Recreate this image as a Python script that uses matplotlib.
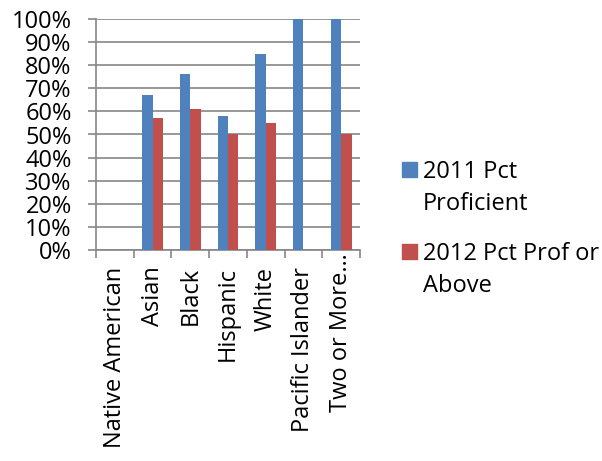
import numpy as np
import matplotlib.pyplot as plt
from matplotlib.patches import Rectangle

plt.rcParams['font.family'] = ['Open Sans', 'DejaVu Sans']

groups = ["Native American", "Asian", "Black", "Hispanic", "White",
          "Pacific Islander", "Two or More…"]
pct_2011 = [np.nan, 0.67, 0.76, 0.58, 0.85, 1.00, 1.00]
pct_2012 = [np.nan, 0.57, 0.61, 0.50, 0.55, np.nan, 0.50]
series_names = ["2011 Pct\nProficient", "2012 Pct Prof or\nAbove"]
blue = "#4F81BD"
red = "#C0504D"
grid_col = "#868686"
fs = 17

W, H = 602, 461
fig = plt.figure(figsize=(W / 100, H / 100), dpi=100)
ax = fig.add_axes([96 / W, 1 - 250 / H, 264 / W, 231 / H])

x = np.arange(len(groups))
w = 0.275
ax.bar(x - w / 2, pct_2011, w, color=blue, zorder=3)
ax.bar(x + w / 2, pct_2012, w, color=red, zorder=3)

ax.set_xlim(-0.5, len(groups) - 0.5)
ax.set_ylim(0, 1)
yt = np.linspace(0, 1, 11)
ax.set_yticks(yt)
ax.set_yticklabels([f"{int(round(v * 100))}%" for v in yt], fontsize=fs)
ax.yaxis.grid(True, color=grid_col, linewidth=1.2, zorder=0)
ax.set_axisbelow(True)

# category labels between boundary ticks, like Excel
ax.set_xticks(x)
ax.set_xticklabels(groups, rotation=90, fontsize=fs)
ax.tick_params(axis='x', length=0, pad=12)
ax.set_xticks(np.arange(-0.5, len(groups)), minor=True)
ax.tick_params(axis='x', which='minor', length=5.5, color=grid_col, width=1.2)
ax.tick_params(axis='y', length=6, color=grid_col, width=1.2, pad=11.5)

# the truncated last label runs up into the axis in the original
ax.xaxis.get_major_ticks()[-1].set_pad(2)

for s in ['top', 'right']:
    ax.spines[s].set_visible(False)
for s in ['left', 'bottom']:
    ax.spines[s].set_color(grid_col)
    ax.spines[s].set_linewidth(1.2)

# legend drawn by hand: square aligned with the first line of each label
legend_top = [162, 244]
for name, col, top in zip(series_names, [blue, red], legend_top):
    fig.patches.append(Rectangle((402 / W, 1 - (top + 15) / H), 15 / W, 15 / H,
                                 transform=fig.transFigure, color=col))
    for i, line in enumerate(name.split("\n")):
        fig.text(423 / W, 1 - (top + 16 + 32 * i) / H, line, fontsize=fs,
                 va='baseline', ha='left')

fig.savefig("out.png", dpi=100)
